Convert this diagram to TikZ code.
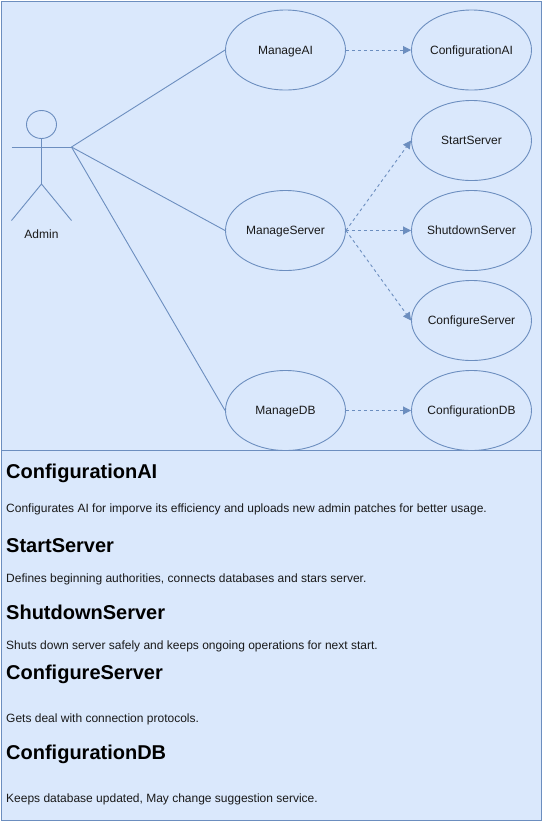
\documentclass[tikz,border=0pt]{standalone}
\usepackage{fontspec}
\setmainfont{Liberation Sans}
\usetikzlibrary{arrows.meta,shapes.geometric}
\definecolor{boxfill}{HTML}{DAE8FC}
\definecolor{boxline}{HTML}{6C8EBF}
\newcommand{\uclabel}[1]{\raisebox{-4.2pt}[0pt][0pt]{\makebox[0pt][c]{#1}}}
\tikzset{
  panel/.style={draw=boxline,fill=boxfill,line width=0.9pt},
  usecase/.style={ellipse,draw=boxline,line width=0.9pt,minimum width=120pt,minimum height=80pt,inner sep=0pt,font=\fontsize{12}{14}\selectfont,text=black!90},
  link/.style={draw=boxline,line width=0.9pt},
  dep/.style={draw=boxline,line width=0.9pt,dash pattern=on 3pt off 3pt,-{Triangle[length=8pt,width=8pt,fill=boxline]}},
  heading/.style={anchor=base west,inner sep=0pt,font=\bfseries\fontsize{20}{24}\selectfont},
  body/.style={anchor=base west,inner sep=0pt,font=\fontsize{12}{14}\selectfont,text=black!90}
}
\begin{document}
\begin{tikzpicture}[x=1pt,y=-1pt]
\useasboundingbox (0,0) rectangle (543,831);
\fill[white] (0,0) rectangle (543,831);
\node[panel,rectangle,minimum width=540.6pt,minimum height=449.6pt,inner sep=0pt,anchor=north west] (top) at (0.5,0.5) {};
\node[panel,rectangle,minimum width=540.6pt,minimum height=370pt,inner sep=0pt,anchor=north west] (bottom) at (0.5,450.2) {};
% actor
\node[ellipse,draw=boxline,line width=0.9pt,minimum width=30pt,minimum height=28pt,inner sep=0pt] (head) at (41.5,124.5) {};
\coordinate (hip) at (41.5,184);
\coordinate (handL) at (11.5,147);
\coordinate (hand) at (71.5,147);
\coordinate (footL) at (11.5,220.5);
\coordinate (footR) at (71.5,220.5);
\draw[link] (head.south) -- (hip);
\draw[link] (handL) -- (hand);
\draw[link] (footL) -- (hip) -- (footR);
\node[font=\fontsize{12}{14}\selectfont,text=black!90,inner sep=0pt] (admin) at (41.5,234) {Admin};
% use cases
\node[usecase] (mai) at (285.5,50) {\uclabel{ManageAI}};
\node[usecase] (msv) at (285.5,230.5) {\uclabel{ManageServer}};
\node[usecase] (mdb) at (285.5,410.5) {\uclabel{ManageDB}};
\node[usecase] (cai) at (471.5,50) {\uclabel{ConfigurationAI}};
\node[usecase] (sts) at (471.5,140.5) {\uclabel{StartServer}};
\node[usecase] (shs) at (471.5,230.5) {\uclabel{ShutdownServer}};
\node[usecase] (cfs) at (471.5,320.5) {\uclabel{ConfigureServer}};
\node[usecase] (cdb) at (471.5,410.5) {\uclabel{ConfigurationDB}};
% connectors
\draw[link] (hand) -- (mai.west);
\draw[link] (hand) -- (msv.west);
\draw[link] (hand) -- (mdb.west);
\draw[dep] (mai.east) -- (cai.west);
\draw[dep] (msv.east) -- (sts.west);
\draw[dep] (msv.east) -- (shs.west);
\draw[dep] (msv.east) -- (cfs.west);
\draw[dep] (mdb.east) -- (cdb.west);
% text
\node[heading] (h1) at (6,478) {ConfigurationAI};
\node[body] (b1) at (6,512) {Configurates AI for imporve its efficiency and uploads new admin patches for better usage.};
\node[heading] (h2) at (6,552) {StartServer};
\node[body] (b2) at (6,582) {Defines beginning authorities, connects databases and stars server.};
\node[heading] (h3) at (6,619) {ShutdownServer};
\node[body] (b3) at (6,649) {Shuts down server safely and keeps ongoing operations for next start.};
\node[heading] (h4) at (6,679) {ConfigureServer};
\node[body] (b4) at (6,722) {Gets deal with connection protocols.};
\node[heading] (h5) at (6,759) {ConfigurationDB};
\node[body] (b5) at (6,802) {Keeps database updated, May change suggestion service.};
\end{tikzpicture}
\end{document}
